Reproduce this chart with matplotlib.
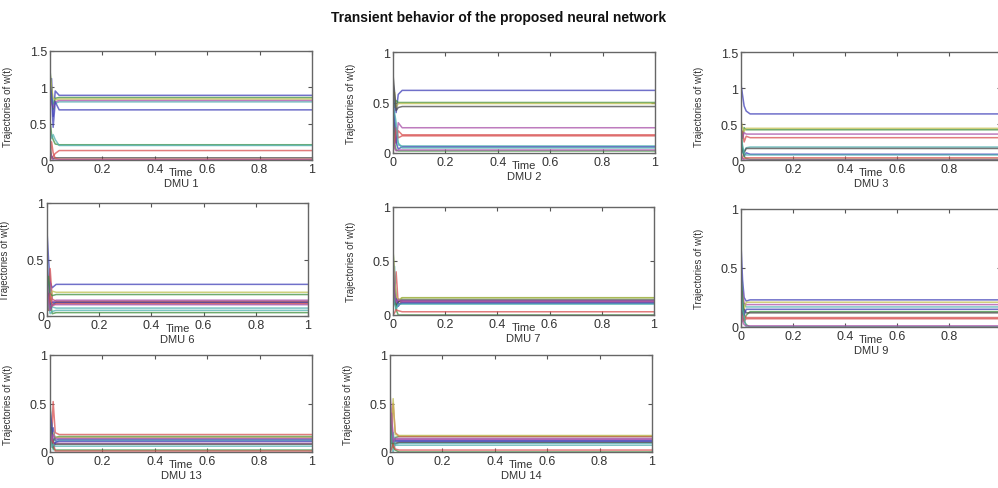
import numpy as np
import matplotlib
matplotlib.use('Agg')
import matplotlib.pyplot as plt

plt.rcParams['font.family'] = ['Liberation Sans', 'DejaVu Sans']

# time knots shared by every trajectory
t_knots = [0, 0.006, 0.012, 0.02, 0.035, 1.0]

dmu_names = ['DMU 1', 'DMU 2', 'DMU 3', 'DMU 6', 'DMU 7', 'DMU 9', 'DMU 13', 'DMU 14']
y_tops = [1.5, 1, 1.5, 1, 1, 1, 1, 1]
x_ticklabels = ['0', '0.2', '0.4', '0.6', '0.8', '1']

w_dmu1 = [[1.10, 1.12, 0.60, 0.95, 0.89, 0.89],
          [1.25, 0.95, 0.70, 0.85, 0.86, 0.86],
          [0.10, 0.02, 0.05, 0.09, 0.13, 0.13],
          [0.80, 0.90, 0.75, 0.78, 0.80, 0.80],
          [0.90, 0.78, 0.72, 0.80, 0.82, 0.82],
          [1.20, 1.00, 0.85, 0.83, 0.84, 0.84],
          [0.20, 0.05, 0.02, 0.03, 0.03, 0.03],
          [1.05, 0.90, 0.45, 0.80, 0.69, 0.69],
          [0.55, 0.35, 0.28, 0.22, 0.21, 0.21],
          [0.05, 0.25, 0.10, 0.02, 0.01, 0.01],
          [0.40, 0.30, 0.35, 0.28, 0.20, 0.20],
          [0.10, 0.05, 0.00, 0.00, 0.00, 0.00]]

w_dmu2 = [[0.70, 0.55, 0.40, 0.58, 0.62, 0.62],
          [0.60, 0.45, 0.52, 0.50, 0.50, 0.50],
          [0.05, 0.30, 0.10, 0.22, 0.18, 0.18],
          [0.50, 0.35, 0.20, 0.08, 0.07, 0.07],
          [0.40, 0.20, 0.10, 0.30, 0.25, 0.25],
          [0.55, 0.60, 0.45, 0.49, 0.49, 0.49],
          [0.78, 0.60, 0.42, 0.45, 0.46, 0.46],
          [0.65, 0.30, 0.10, 0.04, 0.06, 0.06],
          [0.35, 0.10, 0.03, 0.02, 0.02, 0.02],
          [0.00, 0.10, 0.25, 0.15, 0.17, 0.17],
          [0.45, 0.40, 0.30, 0.10, 0.05, 0.05],
          [0.15, 0.05, 0.02, 0.03, 0.03, 0.03]]

w_dmu3 = [[1.05, 0.90, 0.75, 0.68, 0.64, 0.64],
          [0.50, 0.30, 0.45, 0.42, 0.42, 0.42],
          [0.20, 0.40, 0.25, 0.33, 0.31, 0.31],
          [0.30, 0.10, 0.12, 0.17, 0.18, 0.18],
          [0.40, 0.30, 0.38, 0.36, 0.36, 0.36],
          [0.55, 0.45, 0.40, 0.44, 0.44, 0.44],
          [0.25, 0.15, 0.10, 0.16, 0.16, 0.16],
          [0.20, 0.15, 0.05, 0.10, 0.08, 0.08],
          [0.45, 0.15, 0.05, 0.02, 0.01, 0.01],
          [0.10, 0.03, 0.02, 0.03, 0.03, 0.03],
          [0.35, 0.20, 0.10, 0.07, 0.07, 0.07],
          [0.05, 0.02, 0.00, 0.00, 0.00, 0.00]]

w_dmu6 = [[0.75, 0.50, 0.30, 0.25, 0.28, 0.28],
          [0.20, 0.05, 0.15, 0.02, 0.03, 0.03],
          [0.30, 0.10, 0.42, 0.15, 0.13, 0.13],
          [0.55, 0.20, 0.05, 0.08, 0.07, 0.07],
          [0.35, 0.15, 0.30, 0.12, 0.14, 0.14],
          [0.40, 0.25, 0.10, 0.22, 0.21, 0.21],
          [0.10, 0.20, 0.05, 0.10, 0.12, 0.12],
          [0.45, 0.30, 0.10, 0.12, 0.12, 0.12],
          [0.25, 0.35, 0.20, 0.18, 0.19, 0.19],
          [0.15, 0.05, 0.20, 0.09, 0.11, 0.11],
          [0.20, 0.10, 0.02, 0.04, 0.05, 0.05],
          [0.30, 0.12, 0.05, 0.10, 0.10, 0.10]]

w_dmu7 = [[0.45, 0.30, 0.10, 0.08, 0.13, 0.13],
          [0.60, 0.35, 0.15, 0.12, 0.16, 0.16],
          [0.05, 0.20, 0.40, 0.10, 0.12, 0.12],
          [0.30, 0.45, 0.05, 0.10, 0.11, 0.11],
          [0.55, 0.25, 0.10, 0.15, 0.12, 0.12],
          [0.62, 0.30, 0.18, 0.14, 0.16, 0.16],
          [0.35, 0.15, 0.08, 0.12, 0.14, 0.14],
          [0.20, 0.10, 0.15, 0.10, 0.11, 0.11],
          [0.40, 0.20, 0.05, 0.00, 0.00, 0.00],
          [0.00, 0.02, 0.05, 0.04, 0.03, 0.03],
          [0.25, 0.10, 0.06, 0.10, 0.10, 0.10],
          [0.50, 0.20, 0.12, 0.14, 0.13, 0.13]]

w_dmu9 = [[0.70, 0.40, 0.25, 0.22, 0.23, 0.23],
          [0.40, 0.15, 0.05, 0.10, 0.13, 0.13],
          [0.05, 0.20, 0.10, 0.08, 0.08, 0.08],
          [0.30, 0.10, 0.20, 0.17, 0.17, 0.17],
          [0.25, 0.30, 0.20, 0.19, 0.19, 0.19],
          [0.35, 0.25, 0.15, 0.21, 0.21, 0.21],
          [0.20, 0.10, 0.15, 0.12, 0.12, 0.12],
          [0.50, 0.20, 0.10, 0.15, 0.15, 0.15],
          [0.45, 0.25, 0.05, 0.02, 0.00, 0.00],
          [0.00, 0.10, 0.05, 0.07, 0.07, 0.07],
          [0.30, 0.15, 0.08, 0.00, 0.00, 0.00],
          [0.15, 0.05, 0.02, 0.01, 0.01, 0.01]]

w_dmu13 = [[0.35, 0.20, 0.25, 0.12, 0.13, 0.13],
           [0.52, 0.20, 0.10, 0.15, 0.16, 0.16],
           [0.20, 0.10, 0.52, 0.20, 0.18, 0.18],
           [0.25, 0.30, 0.02, 0.10, 0.12, 0.12],
           [0.30, 0.18, 0.10, 0.09, 0.09, 0.09],
           [0.40, 0.15, 0.20, 0.15, 0.15, 0.15],
           [0.15, 0.25, 0.08, 0.08, 0.08, 0.08],
           [0.45, 0.30, 0.05, 0.10, 0.11, 0.11],
           [0.30, 0.10, 0.04, 0.02, 0.02, 0.02],
           [0.05, 0.15, 0.10, 0.01, 0.01, 0.01],
           [0.20, 0.05, 0.08, 0.06, 0.06, 0.06],
           [0.25, 0.12, 0.18, 0.14, 0.14, 0.14]]

w_dmu14 = [[0.40, 0.25, 0.10, 0.12, 0.12, 0.12],
           [0.45, 0.10, 0.05, 0.15, 0.16, 0.16],
           [0.05, 0.30, 0.50, 0.20, 0.16, 0.16],
           [0.10, 0.05, 0.00, 0.08, 0.09, 0.09],
           [0.60, 0.40, 0.15, 0.13, 0.13, 0.13],
           [0.50, 0.20, 0.55, 0.18, 0.17, 0.17],
           [0.20, 0.10, 0.08, 0.09, 0.10, 0.10],
           [0.35, 0.15, 0.12, 0.11, 0.11, 0.11],
           [0.45, 0.15, 0.05, 0.02, 0.00, 0.00],
           [0.00, 0.03, 0.08, 0.03, 0.02, 0.02],
           [0.30, 0.10, 0.20, 0.07, 0.07, 0.07],
           [0.25, 0.40, 0.10, 0.14, 0.14, 0.14]]

all_w = [w_dmu1, w_dmu2, w_dmu3, w_dmu6, w_dmu7, w_dmu9, w_dmu13, w_dmu14]

# axes boxes in pixels (left, top, right, bottom) of a 998x489 figure
boxes = [(50, 52, 312, 161), (393, 53, 655, 154), (741, 53, 1001, 161),
         (47, 204, 308, 317), (393, 208, 654, 316), (741, 210, 1001, 328),
         (50, 356, 312, 453), (390, 356, 652, 453)]

# old matlab colour order, a bit washed out like the blurry original
cols = ['#4040b8', '#3f8f3f', '#d85050', '#50b0b0', '#a850a8', '#c0c050', '#484848']
txt = '#333333'

W, H = 998, 489
fig = plt.figure(figsize=(W / 100, H / 100), dpi=100)
fig.text(0.5, 1 - 18 / H, 'Transient behavior of the proposed neural network',
         ha='center', va='center', fontsize=10, fontweight='bold', color='#111111')

for k in range(len(dmu_names)):
    l, t, r, b = boxes[k]
    ax = fig.add_axes([l / W, 1 - b / H, (r - l) / W, (b - t) / H])
    for i, w in enumerate(all_w[k]):
        ax.plot(t_knots, w, color=cols[i % len(cols)], lw=1.1, alpha=0.75)
    ax.set_xlim(0, 1)
    ax.set_ylim(0, y_tops[k])
    ax.set_xticks(np.arange(0, 1.01, 0.2))
    labs = list(x_ticklabels)
    if r > W:
        labs[-1] = ''  # the right column is cropped in the original, its last label is off-page
    ax.set_xticklabels(labs)
    yt = np.arange(0, y_tops[k] + 0.01, 0.5)
    ax.set_yticks(yt)
    ax.set_yticklabels(['%g' % v for v in yt])
    ax.tick_params(direction='in', length=3, width=0.8, top=True, right=True,
                   labelsize=9, labelcolor=txt, color='#555555', pad=2)
    for s in ax.spines.values():
        s.set_color('#666666')
        s.set_linewidth(1)
    ax.set_ylabel('Trajectories of w(t)', fontsize=7, color=txt)
    ax.yaxis.set_label_coords(-37 / (r - l), 0.5)
    ax.annotate('Time', xy=(0.5, 0), xycoords='axes fraction', xytext=(0, -12),
                textcoords='offset pixels', ha='center', va='center', fontsize=8, color=txt)
    ax.annotate(dmu_names[k], xy=(0.5, 0), xycoords='axes fraction', xytext=(0, -23),
                textcoords='offset pixels', ha='center', va='center', fontsize=8, color=txt)

fig.savefig('out.png', dpi=100)
